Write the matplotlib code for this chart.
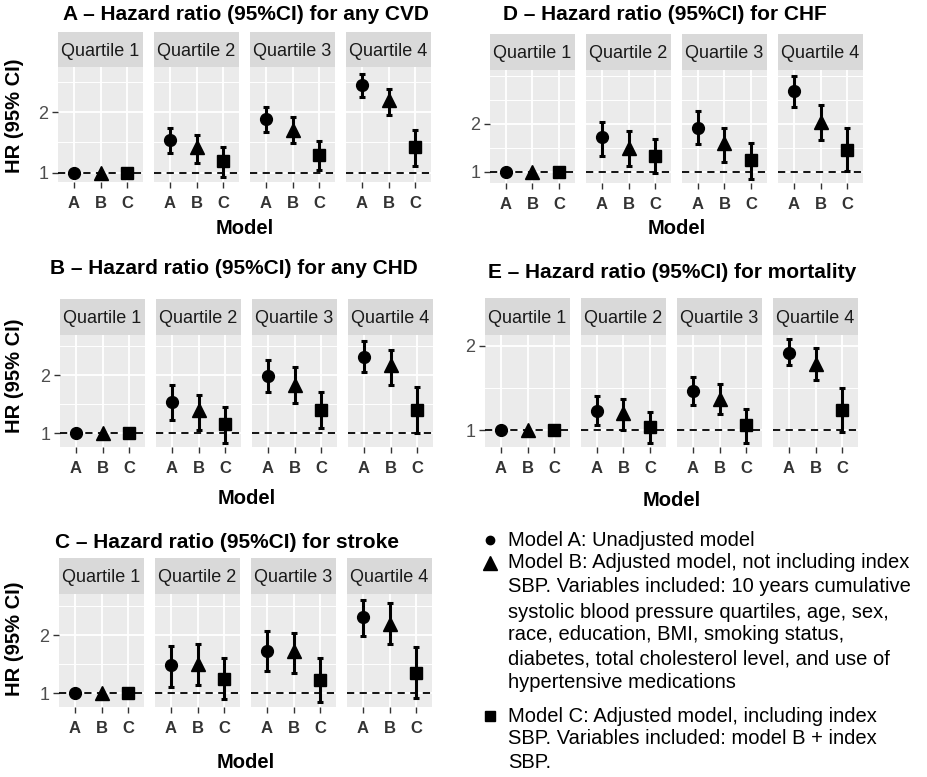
import matplotlib.pyplot as plt
from matplotlib.lines import Line2D

plt.rcParams['font.family'] = ['Liberation Sans', 'DejaVu Sans']

W, H = 927, 777

quartiles = ['Quartile 1', 'Quartile 2', 'Quartile 3', 'Quartile 4']
models = ['A', 'B', 'C']

# rows = quartile 1..4, columns = model A, B, C
cvd_hr = [[1, 1, 1], [1.54, 1.43, 1.20], [1.88, 1.70, 1.29], [2.44, 2.20, 1.43]]
cvd_lo = [[1, 1, 1], [1.33, 1.16, 0.94], [1.67, 1.49, 1.05], [2.25, 1.95, 1.12]]
cvd_hi = [[1, 1, 1], [1.74, 1.62, 1.43], [2.08, 1.92, 1.52], [2.62, 2.38, 1.70]]

chd_hr = [[1, 1, 1], [1.53, 1.39, 1.16], [1.99, 1.83, 1.40], [2.31, 2.17, 1.40]]
chd_lo = [[1, 1, 1], [1.22, 1.06, 0.83], [1.71, 1.52, 1.09], [2.05, 1.83, 1.00]]
chd_hi = [[1, 1, 1], [1.82, 1.66, 1.45], [2.26, 2.13, 1.71], [2.59, 2.44, 1.79]]

stroke_hr = [[1, 1, 1], [1.48, 1.51, 1.25], [1.72, 1.72, 1.23], [2.31, 2.20, 1.34]]
stroke_lo = [[1, 1, 1], [1.11, 1.14, 0.89], [1.38, 1.35, 0.84], [1.98, 1.84, 0.92]]
stroke_hi = [[1, 1, 1], [1.82, 1.85, 1.61], [2.07, 2.04, 1.61], [2.61, 2.55, 1.80]]

chf_hr = [[1, 1, 1], [1.73, 1.50, 1.33], [1.92, 1.60, 1.25], [2.69, 2.04, 1.46]]
chf_lo = [[1, 1, 1], [1.33, 1.13, 0.98], [1.58, 1.20, 0.85], [2.36, 1.67, 1.02]]
chf_hi = [[1, 1, 1], [2.04, 1.85, 1.69], [2.27, 1.92, 1.60], [3.00, 2.40, 1.92]]

mort_hr = [[1, 1, 1], [1.23, 1.20, 1.04], [1.46, 1.37, 1.06], [1.92, 1.79, 1.24]]
mort_lo = [[1, 1, 1], [1.06, 1.00, 0.85], [1.30, 1.19, 0.85], [1.77, 1.60, 0.98]]
mort_hi = [[1, 1, 1], [1.41, 1.37, 1.21], [1.63, 1.55, 1.25], [2.08, 1.98, 1.50]]

titles = {
    'A': 'A \u2013 Hazard ratio (95%CI) for any CVD',
    'B': 'B \u2013 Hazard ratio (95%CI) for any CHD',
    'C': 'C \u2013 Hazard ratio (95%CI) for stroke',
    'D': 'D \u2013 Hazard ratio (95%CI) for CHF',
    'E': 'E \u2013 Hazard ratio (95%CI) for mortality',
}
series = {
    'A': (cvd_hr, cvd_lo, cvd_hi),
    'B': (chd_hr, chd_lo, chd_hi),
    'C': (stroke_hr, stroke_lo, stroke_hi),
    'D': (chf_hr, chf_lo, chf_hi),
    'E': (mort_hr, mort_lo, mort_hi),
}

# pixel layout of each panel
layout = {
    'A': dict(left=58, strip=32, top=67, bot=182, ylim=(0.85, 2.74), tx=63, ty=15, my=228, ylab=116),
    'B': dict(left=60, strip=299, top=335, bot=447, ylim=(0.76, 2.69), tx=50, ty=268, my=498, ylab=376),
    'C': dict(left=59, strip=558, top=594, bot=707, ylim=(0.76, 2.71), tx=55, ty=543, my=763, ylab=639),
    'D': dict(left=490, strip=34, top=70, bot=183, ylim=(0.77, 3.12), tx=503, ty=15, my=228, ylab=None),
    'E': dict(left=485, strip=298, top=335, bot=447, ylim=(0.80, 2.13), tx=488, ty=272, my=500, ylab=None),
}
FW, STEP = 85, 96
shapes = ['o', '^', 's']
sizes = [8.5, 10.5, 8.5]


def box(x0, y0, x1, y1):
    return [x0 / W, 1 - y1 / H, (x1 - x0) / W, (y1 - y0) / H]


fig = plt.figure(figsize=(W / 100, H / 100), dpi=100)

for key, lay in layout.items():
    hr, lo, hi = series[key]
    for q in range(4):
        x0 = lay['left'] + q * STEP
        ax = fig.add_axes(box(x0, lay['top'], x0 + FW, lay['bot']))
        ax.set_facecolor('#EBEBEB')
        for s in ax.spines.values():
            s.set_visible(False)
        ax.set_xticks([1, 2, 3])
        ax.set_xticklabels(models, fontweight='bold', fontsize=12, color='#333333')
        ax.set_yticks([1, 2])
        ax.set_yticks([0.5, 1.5, 2.5, 3.0], minor=True)
        ax.set_xlim(0.4, 3.6)
        ax.set_ylim(*lay['ylim'])
        ax.grid(which='major', color='white', lw=1.3)
        ax.grid(which='minor', axis='y', color='white', lw=0.7)
        ax.set_axisbelow(True)
        ax.tick_params(axis='x', length=4, width=1, color='#333333', pad=6)
        ax.tick_params(axis='y', which='minor', length=0)
        if q == 0:
            ax.set_yticklabels(['1', '2'], fontsize=13, color='#4D4D4D')
            ax.tick_params(axis='y', length=4, width=1, color='#333333', pad=3)
        else:
            ax.set_yticklabels([])
            ax.tick_params(axis='y', length=0)
        ax.axhline(1, color='black', lw=1.3, ls=(0, (4, 3)), zorder=2)
        for m in range(3):
            xm = m + 1
            if hi[q][m] > lo[q][m]:
                ax.errorbar(xm, hr[q][m],
                            yerr=[[hr[q][m] - lo[q][m]], [hi[q][m] - hr[q][m]]],
                            fmt='none', ecolor='black', elinewidth=2.2,
                            capsize=2, capthick=2.2, zorder=3)
            ax.plot(xm, hr[q][m], marker=shapes[m], ms=sizes[m],
                    color='black', ls='none', zorder=4)

        sax = fig.add_axes(box(x0, lay['strip'], x0 + FW, lay['top']))
        sax.set_facecolor('#D9D9D9')
        sax.set_xticks([])
        sax.set_yticks([])
        for s in sax.spines.values():
            s.set_visible(False)
        sax.text(0.5, 0.45, quartiles[q], ha='center', va='center',
                 fontsize=13, color='#1A1A1A', transform=sax.transAxes)

    fig.text(lay['tx'] / W, 1 - lay['ty'] / H, titles[key], ha='left', va='center',
             fontsize=15, fontweight='bold')
    cx = lay['left'] + (3 * STEP + FW) / 2
    fig.text(cx / W, 1 - lay['my'] / H, 'Model', ha='center', va='center',
             fontsize=14.5, fontweight='bold')
    if lay['ylab'] is not None:
        fig.text(15 / W, 1 - lay['ylab'] / H, 'HR (95% CI)', ha='center', va='center',
                 rotation=90, fontsize=14.5, fontweight='bold')

# legend text
legend_lines = [
    (540, 'Model A: Unadjusted model'),
    (563, 'Model B: Adjusted model, not including index'),
    (587, 'SBP. Variables included: 10 years cumulative'),
    (612, 'systolic blood pressure quartiles, age, sex,'),
    (635, 'race, education, BMI, smoking status,'),
    (659, 'diabetes, total cholesterol level, and use of'),
    (683, 'hypertensive medications'),
    (716, 'Model C: Adjusted model, including index'),
    (739, 'SBP. Variables included: model B + index'),
    (763, 'SBP.'),
]
for y, line in legend_lines:
    fig.text(508 / W, 1 - y / H, line, ha='left', va='center', fontsize=14.5)

for y, mk, ms in [(540, 'o', 6), (563, '^', 10), (716, 's', 7)]:
    fig.add_artist(Line2D([490 / W], [1 - y / H], marker=mk, ms=ms, color='black',
                          ls='none', transform=fig.transFigure))

fig.savefig('out.png', dpi=100)
